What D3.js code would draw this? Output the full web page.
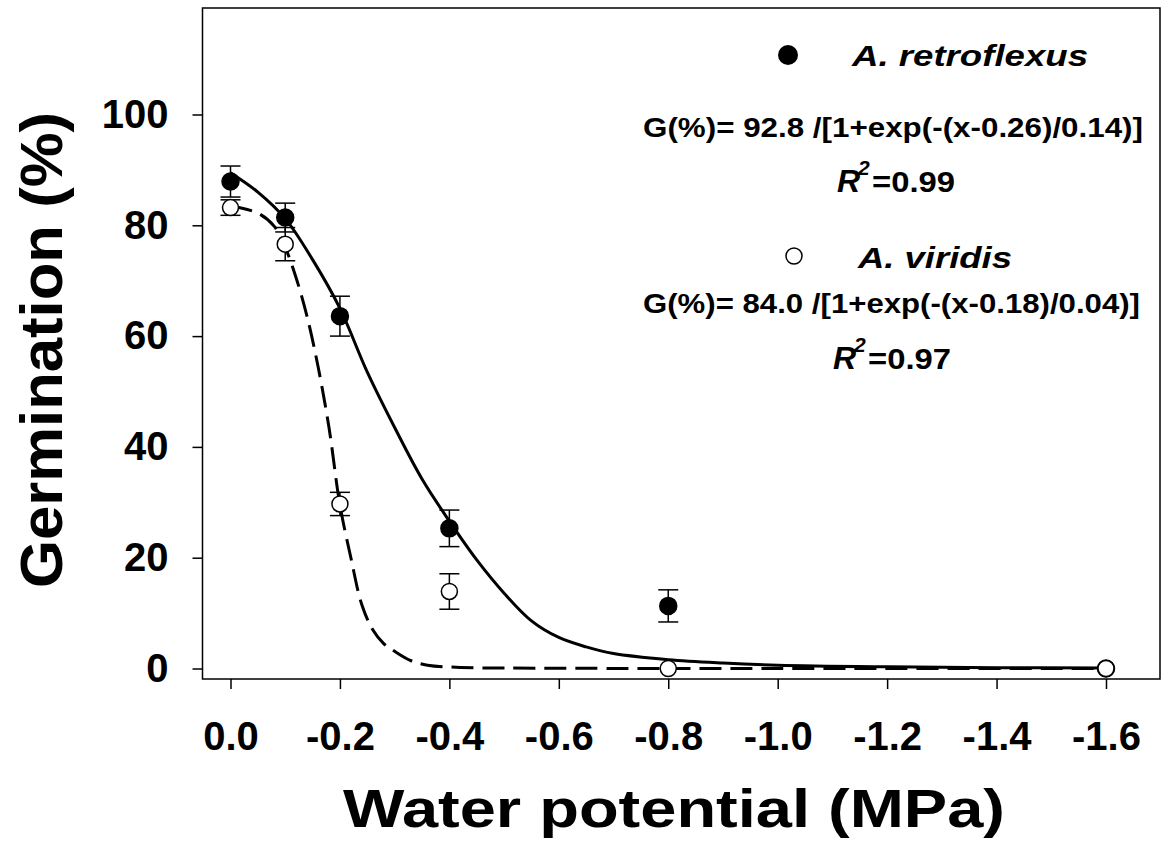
<!DOCTYPE html>
<html>
<head>
<meta charset="utf-8">
<script src="https://cdn.jsdelivr.net/npm/d3@7"></script>
<style>
  body { margin: 0; background: #fff; }
  text { font-family: "Liberation Sans", Arial, sans-serif; font-weight: bold; fill: #000; }
</style>
</head>
<body>
<div id="plot"></div>
<script>
// measured points (water potential, MPa)
var waterPotential = [0, -0.1, -0.2, -0.4, -0.8, -1.6];
var retroflexus = [87.9, 81.4, 63.6, 25.3, 11.3, 0];
var retroflexusErr = [2.8, 2.6, 3.6, 3.3, 2.9, 0];
var viridis = [83.2, 76.6, 29.7, 13.9, 0, 0];
var viridisErr = [1.4, 3.0, 2.1, 3.2, 0, 0];

// fitted curves
var retroFitX = [0, -0.05, -0.1, -0.15, -0.2, -0.25, -0.3, -0.35, -0.4, -0.45, -0.5, -0.55, -0.6, -0.65, -0.7, -0.8, -0.9, -1.0, -1.2, -1.4, -1.6];
var retroFitY = [89.5, 86.0, 81.2, 73.8, 65.0, 53.5, 43.5, 34.2, 26.6, 19.6, 13.6, 8.6, 5.6, 3.9, 2.7, 1.6, 1.0, 0.6, 0.3, 0.15, 0.1];
var viridisFitX = [0, -0.05, -0.08, -0.1, -0.12, -0.14, -0.16, -0.18, -0.2, -0.22, -0.24, -0.26, -0.28, -0.3, -0.33, -0.36, -0.42, -0.6, -1.0, -1.6];
var viridisFitY = [83.5, 82.2, 79.8, 76.0, 70.5, 63.5, 54.5, 43.5, 29.5, 20.0, 11.5, 7.0, 4.5, 3.1, 1.4, 0.6, 0.2, 0.05, 0, 0];

var xTicks = [0, -0.2, -0.4, -0.6, -0.8, -1.0, -1.2, -1.4, -1.6];
var yTicks = [0, 20, 40, 60, 80, 100];

var width = 1168, height = 843;
var frame = {left: 202.5, top: 8, right: 1160, bottom: 679};

var svg = d3.select("#plot")
    .append("svg")
    .attr("width", width)
    .attr("height", height);

var x = d3.scaleLinear().domain([0, -1.6]).range([230.5, 1106]);
var y = d3.scaleLinear().domain([0, 100]).range([668.5, 114.5]);

// frame
svg.append("rect")
    .attr("x", frame.left)
    .attr("y", frame.top)
    .attr("width", frame.right - frame.left)
    .attr("height", frame.bottom - frame.top)
    .style("fill", "none")
    .style("stroke", "#000")
    .style("stroke-width", 1.5);

// axes
var xAxis = svg.append("g")
    .attr("transform", "translate(0," + frame.bottom + ")")
    .call(d3.axisBottom(x).tickValues(xTicks).tickSize(10).tickSizeOuter(0).tickPadding(33)
        .tickFormat(function(d) { return d == 0 ? "0.0" : d.toFixed(1); }));
xAxis.select(".domain").remove();
xAxis.selectAll("line").style("stroke-width", 1.5);
xAxis.selectAll("text").style("font-size", "40px").attr("font-family", null);

var yAxis = svg.append("g")
    .attr("transform", "translate(" + frame.left + ",0)")
    .call(d3.axisLeft(y).tickValues(yTicks).tickSize(10).tickSizeOuter(0).tickPadding(24));
yAxis.select(".domain").remove();
yAxis.selectAll("line").style("stroke-width", 1.5);
yAxis.selectAll("text").style("font-size", "40px").attr("font-family", null);

// axis titles
svg.append("text")
    .attr("x", 343)
    .attr("y", 827)
    .attr("textLength", 662)
    .attr("lengthAdjust", "spacingAndGlyphs")
    .style("font-size", "53px")
    .text("Water potential (MPa)");

svg.append("text")
    .attr("transform", "translate(62,588) rotate(-90)")
    .attr("textLength", 476)
    .attr("lengthAdjust", "spacingAndGlyphs")
    .style("font-size", "60px")
    .text("Germination (%)");

// fitted curves
var line = d3.line()
    .x(function(d) { return x(d[0]); })
    .y(function(d) { return y(d[1]); })
    .curve(d3.curveCatmullRom.alpha(0.5));

svg.append("path")
    .attr("d", line(d3.zip(viridisFitX, viridisFitY)))
    .style("fill", "none")
    .style("stroke", "#000")
    .style("stroke-width", 3)
    .style("stroke-dasharray", "22,9");

svg.append("path")
    .attr("d", line(d3.zip(retroFitX, retroFitY)))
    .style("fill", "none")
    .style("stroke", "#000")
    .style("stroke-width", 3);

// error bars + points
function drawSeries(vals, errs, filled)
{
    var data = waterPotential.map(function(w, i) { return {w: w, v: vals[i], e: errs[i]}; });
    var g = svg.append("g");
    var eb = g.selectAll("g.err")
        .data(data.filter(function(d) { return d.e > 0; }))
        .enter().append("g")
        .style("stroke", "#000")
        .style("stroke-width", 1.5);
    eb.append("line")
        .attr("x1", function(d) { return x(d.w); })
        .attr("x2", function(d) { return x(d.w); })
        .attr("y1", function(d) { return y(d.v - d.e); })
        .attr("y2", function(d) { return y(d.v + d.e); });
    [-1, 1].forEach(function(s) {
        eb.append("line")
            .attr("x1", function(d) { return x(d.w) - 10; })
            .attr("x2", function(d) { return x(d.w) + 10; })
            .attr("y1", function(d) { return y(d.v + s * d.e); })
            .attr("y2", function(d) { return y(d.v + s * d.e); });
    });
    g.selectAll("circle")
        .data(data)
        .enter().append("circle")
        .attr("cx", function(d) { return x(d.w); })
        .attr("cy", function(d) { return y(d.v); })
        .attr("r", filled ? 8.5 : 8)
        .style("fill", filled ? "#000" : "#fff")
        .style("stroke", "#000")
        .style("stroke-width", 1.5);
}
drawSeries(retroflexus, retroflexusErr, true);
drawSeries(viridis, viridisErr, false);

// legend and equations
svg.append("circle").attr("cx", 788).attr("cy", 55).attr("r", 10).style("fill", "#000");
svg.append("circle").attr("cx", 794).attr("cy", 256).attr("r", 8)
    .style("fill", "#fff").style("stroke", "#000").style("stroke-width", 1.5);

svg.append("text")
    .attr("x", 852).attr("y", 66)
    .attr("textLength", 236).attr("lengthAdjust", "spacingAndGlyphs")
    .style("font-size", "30px").style("font-style", "italic")
    .text("A. retroflexus");

svg.append("text")
    .attr("x", 858).attr("y", 268)
    .attr("textLength", 154).attr("lengthAdjust", "spacingAndGlyphs")
    .style("font-size", "30px").style("font-style", "italic")
    .text("A. viridis");

svg.append("text")
    .attr("x", 643).attr("y", 137)
    .attr("textLength", 500).attr("lengthAdjust", "spacingAndGlyphs")
    .style("font-size", "28px")
    .text("G(%)= 92.8 /[1+exp(-(x-0.26)/0.14)]");

svg.append("text")
    .attr("x", 643).attr("y", 313)
    .attr("textLength", 497).attr("lengthAdjust", "spacingAndGlyphs")
    .style("font-size", "28px")
    .text("G(%)= 84.0 /[1+exp(-(x-0.18)/0.04)]");

function rSquared(x0, base, value)
{
    svg.append("text").attr("x", x0).attr("y", base)
        .style("font-size", "32px").style("font-style", "italic").text("R");
    svg.append("text").attr("x", x0 + 21).attr("y", base - 17)
        .style("font-size", "21px").style("font-style", "italic").text("2");
    svg.append("text").attr("x", x0 + 35).attr("y", base)
        .attr("textLength", 83).attr("lengthAdjust", "spacingAndGlyphs")
        .style("font-size", "30px").text("=" + value);
}
rSquared(837, 192, "0.99");
rSquared(833, 369, "0.97");
</script>
</body>
</html>
